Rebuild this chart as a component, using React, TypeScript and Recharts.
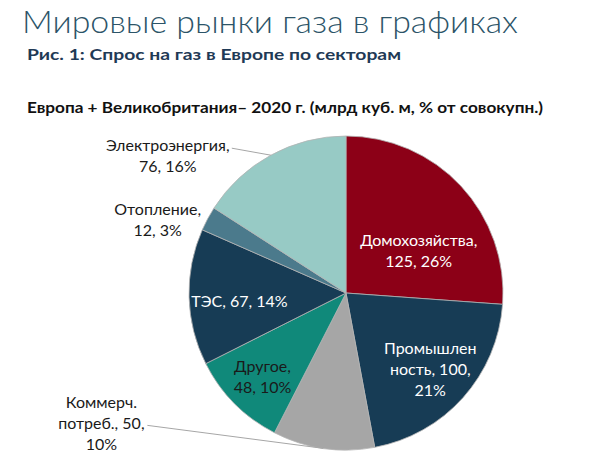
import { PieChart, Pie, Cell } from 'recharts';

// Europe + UK gas demand by sector, 2020 (bcm), clockwise from 12 o'clock
const sectors = ['Домохозяйства', 'Промышленность', 'Коммерч. потреб.', 'Другое', 'ТЭС', 'Отопление', 'Электроэнергия'];
const demandBcm = [125, 100, 50, 48, 67, 12, 76];
const sectorColors = ['#8c0017', '#173c55', '#a6a6a6', '#10897a', '#173c55', '#4b7a8c', '#97cac5'];

const total = demandBcm.reduce((a, b) => a + b, 0);
const data = sectors.map((name, i) => ({
  name,
  value: demandBcm[i],
  pct: Math.round((demandBcm[i] / total) * 100),
}));

// Label layout: where each label text breaks, and how it sits relative to its slice
type Place = {
  cuts: number[];
  fill: string;
  rf?: number; // inside: radius fraction
  da?: number; // inside: angle shift (deg)
  tx?: number; // outside: text centre offset from slice edge midpoint
  ty?: number;
  lx?: number; // outside: leader line end offset from slice edge midpoint
  ly?: number;
};
const placement: Place[] = [
  { cuts: [15], fill: '#ffffff', rf: 0.54, da: -12 },
  { cuts: [9, 21], fill: '#ffffff', rf: 0.72, da: 0 },
  { cuts: [9, 22], fill: '#1a1a1a', tx: -222, ty: -26, lx: -176, ly: -23 },
  { cuts: [8], fill: '#1a1a1a', rf: 0.75, da: 0 },
  { cuts: [], fill: '#ffffff', rf: 0.68, da: 2 },
  { cuts: [11], fill: '#1a1a1a', tx: -50, ty: 0 },
  { cuts: [16], fill: '#1a1a1a', tx: -103, ty: -1, lx: -39, ly: -7 },
];

const RAD = Math.PI / 180;
const FONT = 'Lato, "Open Sans", sans-serif';

function splitLines(text: string, cuts: number[]) {
  const marks = [0, ...cuts, text.length];
  const out: string[] = [];
  for (let k = 0; k < marks.length - 1; k++) out.push(text.slice(marks[k], marks[k + 1]).trim());
  return out;
}

function renderLabel(p: any) {
  const { cx, cy, midAngle, outerRadius, index } = p;
  const d = data[index];
  const pl = placement[index];
  const lines = splitLines(`${d.name}, ${d.value}, ${d.pct}%`, pl.cuts);
  let tx: number;
  let ty: number;
  let leader = null;
  if (pl.rf != null) {
    const a = (midAngle + (pl.da ?? 0)) * RAD;
    tx = cx + outerRadius * pl.rf * Math.cos(a);
    ty = cy - outerRadius * pl.rf * Math.sin(a);
  } else {
    const ex = cx + outerRadius * Math.cos(midAngle * RAD);
    const ey = cy - outerRadius * Math.sin(midAngle * RAD);
    tx = ex + (pl.tx ?? 0);
    ty = ey + (pl.ty ?? 0);
    if (pl.lx != null) {
      leader = <line x1={ex + pl.lx} y1={ey + (pl.ly ?? 0)} x2={ex} y2={ey} stroke="#a6a6a6" strokeWidth={1} />;
    }
  }
  const lh = 21;
  const y0 = ty - ((lines.length - 1) * lh) / 2;
  return (
    <g key={`lbl-${index}`}>
      {leader}
      <text x={tx} y={y0} textAnchor="middle" dominantBaseline="central" fill={pl.fill} fontFamily={FONT} fontSize={16}>
        {lines.map((l, k) => (
          <tspan key={k} x={tx} dy={k ? lh : 0}>
            {l}
          </tspan>
        ))}
      </text>
    </g>
  );
}

export default function App() {
  return (
    <div style={{ position: 'fixed', left: 0, top: 0, width: 590, height: 475, background: '#ffffff' }}>
      <PieChart width={590} height={475} margin={{ top: 0, right: 0, bottom: 0, left: 0 }}>
        <Pie
          data={data}
          dataKey="value"
          nameKey="name"
          cx={346}
          cy={293}
          outerRadius={157}
          startAngle={90}
          endAngle={-270}
          stroke="#b4b4b4"
          strokeWidth={0.8}
          label={renderLabel}
          labelLine={false}
          isAnimationActive={false}
        >
          {data.map((d, i) => (
            <Cell key={d.name} fill={sectorColors[i]} />
          ))}
        </Pie>
      </PieChart>
      <svg width={590} height={475} style={{ position: 'absolute', left: 0, top: 0, pointerEvents: 'none' }}>
        <text x={22} y={33} fontFamily={FONT} fontWeight={300} fontSize={31} fill="#2c5468" textLength={496} lengthAdjust="spacingAndGlyphs">
          Мировые рынки газа в графиках
        </text>
        <text x={27} y={60} fontFamily={FONT} fontWeight={700} fontSize={16} fill="#1f3a56" textLength={374} lengthAdjust="spacingAndGlyphs">
          Рис. 1: Спрос на газ в Европе по секторам
        </text>
        <text x={27} y={113} fontFamily={FONT} fontWeight={700} fontSize={15} fill="#111111" textLength={516} lengthAdjust="spacingAndGlyphs">
          Европа + Великобритания– 2020 г. (млрд куб. м, % от совокупн.)
        </text>
      </svg>
    </div>
  );
}
